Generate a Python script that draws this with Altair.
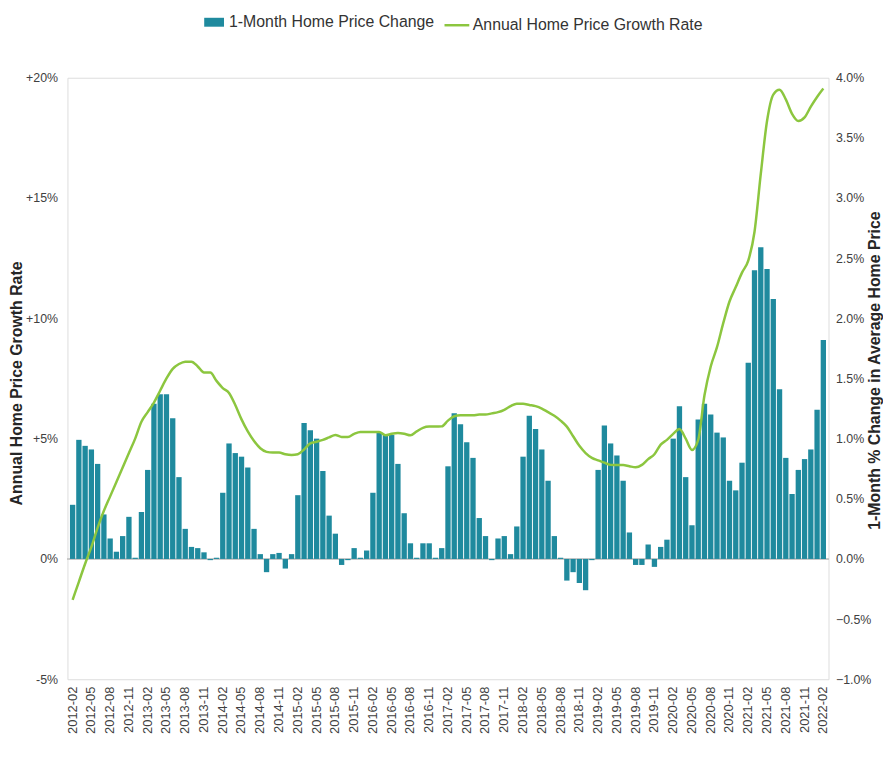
import altair as alt
import pandas as pd

# ---- data -----------------------------------------------------------------
all_months = [f"{y}-{m:02d}" for y in range(2012, 2023) for m in range(1, 13)]
months = all_months[all_months.index("2012-02"): all_months.index("2022-02") + 1]
tick_labels = months[::3]

# 1-month % change in average home price (right axis, %)
monthly_change = [
    0.45, 0.99, 0.94, 0.91, 0.79, 0.37, 0.17, 0.06, 0.19, 0.35, 0.01,   # 2012-02..2012-12
    0.39, 0.74, 1.29, 1.37, 1.37, 1.17, 0.68, 0.25, 0.10, 0.09, 0.055, -0.01,  # 2013
    0.01, 0.55, 0.96, 0.88, 0.85, 0.76, 0.25, 0.04, -0.11, 0.04, 0.05, -0.08,  # 2014
    0.04, 0.53, 1.13, 1.07, 1.00, 0.73, 0.36, 0.21, -0.05, -0.01, 0.09, 0.01,  # 2015
    0.07, 0.55, 1.05, 1.03, 1.03, 0.79, 0.38, 0.13, 0.01, 0.13, 0.13, 0.01,    # 2016
    0.09, 0.77, 1.21, 1.12, 0.97, 0.84, 0.34, 0.19, -0.01, 0.17, 0.19, 0.04,   # 2017
    0.27, 0.85, 1.19, 1.08, 0.91, 0.65, 0.19, 0.01, -0.18, -0.11, -0.20, -0.26,  # 2018
    -0.01, 0.74, 1.11, 0.96, 0.86, 0.65, 0.22, -0.05, -0.05, 0.12, -0.066, 0.10,  # 2019
    0.16, 1.00, 1.27, 0.68, 0.28, 1.16, 1.29, 1.20, 1.05, 1.01, 0.65, 0.57,    # 2020
    0.80, 1.63, 2.40, 2.59, 2.41, 2.16, 1.41, 0.84, 0.54, 0.74, 0.83, 0.91,    # 2021
    1.24, 1.82,                                                               # 2022
]

# annual home price growth rate (left axis, %)
annual_growth = [
    -1.7, -0.95, -0.2, 0.5, 1.3, 2.0, 2.6, 3.2, 3.8, 4.4, 5.0,            # 2012-02..2012-12
    5.7, 6.1, 6.5, 7.0, 7.5, 7.9, 8.1, 8.2, 8.2, 8.0, 7.75, 7.75,          # 2013
    7.4, 7.1, 6.9, 6.4, 5.8, 5.3, 4.9, 4.6, 4.45, 4.42, 4.42, 4.35,        # 2014
    4.32, 4.35, 4.55, 4.8, 4.87, 4.95, 5.05, 5.15, 5.07, 5.07, 5.2, 5.28,  # 2015
    5.28, 5.28, 5.28, 5.14, 5.2, 5.23, 5.2, 5.14, 5.3, 5.45, 5.5, 5.5,     # 2016
    5.51, 5.75, 5.93, 5.97, 5.97, 5.97, 6.0, 6.0, 6.05, 6.1, 6.2, 6.35,    # 2017
    6.45, 6.45, 6.4, 6.35, 6.25, 6.1, 5.95, 5.75, 5.5, 5.1, 4.7, 4.4,      # 2018
    4.2, 4.1, 4.0, 3.91, 3.9, 3.9, 3.85, 3.81, 3.91, 4.15, 4.35, 4.75,     # 2019
    4.95, 5.2, 5.4, 5.0, 4.53, 4.95, 6.8, 8.0, 8.8, 9.8, 10.7, 11.3,       # 2020
    11.9, 12.4, 13.6, 16.0, 18.2, 19.3, 19.5, 19.1, 18.5, 18.2, 18.35, 18.8,  # 2021
    19.2, 19.55,                                                           # 2022
]

left_ticks = [-5, 0, 5, 10, 15, 20]
right_ticks = [-1.0, -0.5, 0.0, 0.5, 1.0, 1.5, 2.0, 2.5, 3.0, 3.5, 4.0]

bar_name = "1-Month Home Price Change"
line_name = "Annual Home Price Growth Rate"

df = pd.DataFrame({
    "month": months,
    "monthly": monthly_change,
    "annual": annual_growth,
    "bar_series": [bar_name] * len(months),
    "line_series": [line_name] * len(months),
})

TEAL = "#1f8a9e"
GREEN = "#8cc63f"
FONT = "Liberation Sans"
LABEL = "#404040"

W, H = 768, 607

x_enc = alt.X(
    "month:O",
    sort=months,
    scale=alt.Scale(paddingInner=0.15, paddingOuter=0.4),
    axis=alt.Axis(
        values=tick_labels, labelAngle=270, title=None, ticks=False, domain=False, grid=False,
        labelFontSize=13, labelColor=LABEL, labelPadding=7, labelFont=FONT,
    ),
)

zero = alt.Chart(df).mark_rule(color="#c8c8c8", strokeWidth=1).encode(
    y=alt.Y(datum=0, scale=alt.Scale(domain=[-1, 4], nice=False, zero=False), axis=None)
)

bars = alt.Chart(df).mark_bar().encode(
    x=x_enc,
    y=alt.Y(
        "monthly:Q",
        scale=alt.Scale(domain=[-1, 4], nice=False, zero=False),
        axis=alt.Axis(
            orient="right", values=right_ticks,
            labelExpr="format(datum.value, '.1f') + '%'",
            title="1-Month  % Change in Average Home Price",
            titleAngle=270, titleX=46, titleY=295, titleAlign="center", titleBaseline="middle",
            titleFontSize=16, titleFontWeight="bold", titleColor="#262626", titleFont=FONT,
            labelFontSize=12.5, labelColor=LABEL, labelPadding=7, labelFont=FONT,
            ticks=False, domain=False, grid=False,
        ),
    ),
    fill=alt.Fill(
        "bar_series:N",
        scale=alt.Scale(domain=[bar_name], range=[TEAL]),
        legend=alt.Legend(
            title=None, orient="none", legendX=137, legendY=-67,
            symbolType="M-1,-0.45L1,-0.45L1,0.45L-1,0.45Z", symbolSize=400,
            labelFontSize=16, labelColor="#333333", labelFont=FONT, labelOffset=4,
            labelLimit=400,
        ),
    ),
)

line = alt.Chart(df).mark_line(strokeWidth=2.5, interpolate="monotone").encode(
    x=x_enc,
    y=alt.Y(
        "annual:Q",
        scale=alt.Scale(domain=[-5, 20], nice=False, zero=False),
        axis=alt.Axis(
            orient="left", values=left_ticks,
            labelExpr="(datum.value > 0 ? '+' : '') + datum.value + '%'",
            title="Annual Home Price Growth Rate",
            titleAngle=270, titleX=-51, titleY=308, titleAlign="center", titleBaseline="middle",
            titleFontSize=16, titleFontWeight="bold", titleColor="#262626", titleFont=FONT,
            labelFontSize=12.5, labelColor=LABEL, labelPadding=10, labelFont=FONT,
            ticks=False, domain=False, grid=False,
        ),
    ),
    stroke=alt.Stroke(
        "line_series:N",
        scale=alt.Scale(domain=[line_name], range=[GREEN]),
        legend=alt.Legend(
            title=None, orient="none", legendX=379, legendY=-67,
            symbolType="stroke", symbolSize=625, symbolStrokeWidth=2.5,
            labelFontSize=16, labelColor="#333333", labelFont=FONT, labelOffset=2,
            labelLimit=400,
        ),
    ),
)

chart = (
    alt.layer(zero, bars, line)
    .resolve_scale(y="independent")
    .properties(
        width=W, height=H,
        autosize=alt.AutoSizeParams(type="none"),
        padding={"left": 60, "top": 67, "right": 55, "bottom": 64},
    )
    .configure_view(strokeWidth=0, stroke="transparent")
    .configure_axis(grid=False)
    .configure(font=FONT)
)

chart.save("out.html", embed_options={"renderer": "svg", "actions": False})
